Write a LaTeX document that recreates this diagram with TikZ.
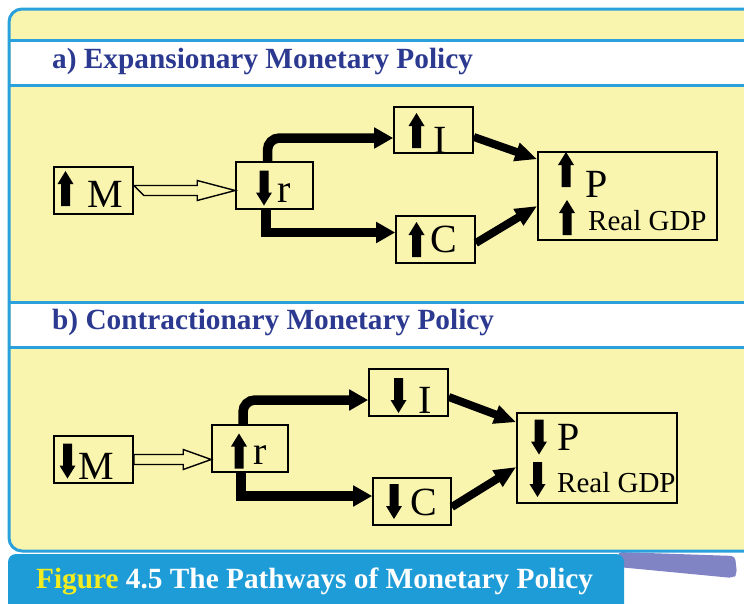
\documentclass[tikz,border=0pt]{standalone}
\usepackage{fontspec}
\setmainfont{Liberation Serif}
\usetikzlibrary{arrows.meta,calc}
\definecolor{panelyellow}{HTML}{FAF5AE}
\definecolor{frameblue}{HTML}{2AA0DC}
\definecolor{capblue}{HTML}{1E9CD8}
\definecolor{headblue}{HTML}{2B3990}
\definecolor{shadowpurple}{HTML}{8083C4}
\definecolor{figyellow}{HTML}{F2EC20}
\tikzset{
  box/.style={draw=black, line width=1.6pt, inner sep=0pt, fill=panelyellow},
  letter/.style={anchor=base west, inner sep=0pt, font=\fontsize{40}{40}\selectfont},
  smalltext/.style={anchor=base west, inner sep=0pt, font=\fontsize{29}{29}\selectfont},
  headtext/.style={anchor=base west, inner sep=0pt, text=headblue, font=\fontsize{29.3}{30}\selectfont\bfseries},
  fat/.style={line width=9.5pt, -{Triangle[length=19pt,width=20pt]}},
  taper/.style={line width=8pt, -{Triangle[length=22pt,width=18pt]}},
  hollow/.style={draw=black, line width=1.4pt, fill=panelyellow, line join=miter},
  uparr/.pic={\fill[black] (0,-17.5) -- (8,-4.5) -- (4.5,-4.5) -- (4.5,17.5) -- (-4.5,17.5) -- (-4.5,-4.5) -- (-8,-4.5) -- cycle;},
  dnarr/.pic={\fill[black] (0,17.5) -- (8,4.5) -- (4.5,4.5) -- (4.5,-17.5) -- (-4.5,-17.5) -- (-4.5,4.5) -- (-8,4.5) -- cycle;},
}
\newcommand\hollowarrow[4]{%
  \path[hollow] let \p1=(#1.east), \p2=(#2.west) in
    (\x1,\y1+5pt) -- (\x2-#3,\y1+5pt) -- (\x2-#3,\y1+10pt) -- (\x2,\y1)
    -- (\x2-#3,\y1-10pt) -- (\x2-#3,\y1-5pt) -- (\x1+#4,\y1-5pt) -- cycle;}
\begin{document}
\begin{tikzpicture}[x=1pt,y=-1pt]
\useasboundingbox (0,0) rectangle (744,603);
\clip (0,0) rectangle (744,603);
\fill[white] (0,0) rectangle (744,603);
% shadow
\fill[shadowpurple, rounded corners=4pt] (618,552) -- (735,556) -- (737,574) -- (733,578) -- (618,567) -- cycle;
% frame
\draw[frameblue, line width=3pt, fill=panelyellow, rounded corners=13pt] (760,9) -- (9,9) -- (9,551) -- (760,551);
% headers
\fill[white] (10.5,41) rectangle (744,84);
\draw[frameblue, line width=3pt] (9,40) -- (744,40) (9,85) -- (744,85);
\fill[white] (10.5,303) rectangle (744,346);
\draw[frameblue, line width=3pt] (9,302) -- (744,302) (9,347) -- (744,347);
\node[headtext] (ha) at (52,68) {a) Expansionary Monetary Policy};
\node[headtext] (hb) at (52,329) {b) Contractionary Monetary Policy};
% caption
\fill[capblue, rounded corners=8pt] (8,554) -- (624,554) -- (624,620) -- (8,620) -- cycle;
\node[anchor=base west, inner sep=0pt, font=\fontsize{29.3}{30}\selectfont\bfseries] (cap) at (36,588)
  {\textcolor{figyellow}{Figure} \textcolor{white}{4.5 The Pathways of Monetary Policy}};

% ---------- a) ----------
\node[box, minimum width=79pt, minimum height=47pt] (Ma) at (93.5,190.5) {};
\node[box, minimum width=77pt, minimum height=47pt] (ra) at (274.5,185.5) {};
\node[box, minimum width=79pt, minimum height=46pt] (Ia) at (433.5,130) {};
\node[box, minimum width=79pt, minimum height=47pt] (Ca) at (435.5,239.5) {};
\node[box, minimum width=179pt, minimum height=88pt] (Pa) at (627.5,196) {};
\node[letter] (Mat) at (87,207) {M};
\pic at (65.5,188.5) {uparr};
\node[letter] (rat) at (277,202) {r};
\pic at (264,188) {dnarr};
\node[letter] (Iat) at (433,153) {I};
\pic at (416.5,130.5) {uparr};
\node[letter] (Cat) at (430,252) {C};
\pic at (416.5,239.5) {uparr};
\node[letter] (Pat) at (585,197) {P};
\pic at (566,169.5) {uparr};
\node[smalltext] (Gat) at (588,230) {Real GDP};
\pic at (567,217.5) {uparr};
\hollowarrow{Ma}{ra}{38pt}{10pt}
\draw[fat, rounded corners=12pt] ([xshift=-7pt]ra.north) |- ([yshift=-8pt]Ia.west);
\draw[fat] ([xshift=-8.5pt]ra.south) |- ([yshift=7pt]Ca.west);
\draw[taper] ([yshift=-7pt]Ia.east) -- ([yshift=-8pt]Pa.north west);
\draw[taper] ([yshift=-3.5pt]Ca.east) -- ([yshift=-10pt]Pa.west);

% ---------- b) ----------
\node[box, minimum width=79pt, minimum height=47pt] (Mb) at (93.5,459.5) {};
\node[box, minimum width=76pt, minimum height=47pt] (rb) at (250,448.5) {};
\node[box, minimum width=79pt, minimum height=47pt] (Ib) at (408.5,392.5) {};
\node[box, minimum width=78pt, minimum height=47pt] (Cb) at (412,501.5) {};
\node[box, minimum width=160pt, minimum height=90pt] (Pb) at (597,458) {};
\node[letter] (Mbt) at (78,479) {M};
\pic at (67.5,461) {dnarr};
\node[letter] (rbt) at (253,464) {r};
\pic at (239,451) {uparr};
\node[letter] (Ibt) at (418,413) {I};
\pic at (398.5,395.5) {dnarr};
\node[letter] (Cbt) at (410,515) {C};
\pic at (394,501.5) {dnarr};
\node[letter] (Pbt) at (557,450) {P};
\pic at (539,437) {dnarr};
\node[smalltext] (Gbt) at (557,492) {Real GDP};
\pic at (537.5,479.5) {dnarr};
\hollowarrow{Mb}{rb}{28pt}{0pt}
\draw[fat, rounded corners=12pt] ([xshift=-7pt]rb.north) |- ([yshift=-7.5pt]Ib.west);
\draw[fat] ([xshift=-9pt]rb.south) |- ([yshift=5.5pt]Cb.west);
\draw[taper] ([yshift=-4.5pt]Ib.east) -- ([yshift=-10pt]Pb.north west);
\draw[taper] ([yshift=-5.5pt]Cb.east) -- ([yshift=-9pt]Pb.west);
\end{tikzpicture}
\end{document}
